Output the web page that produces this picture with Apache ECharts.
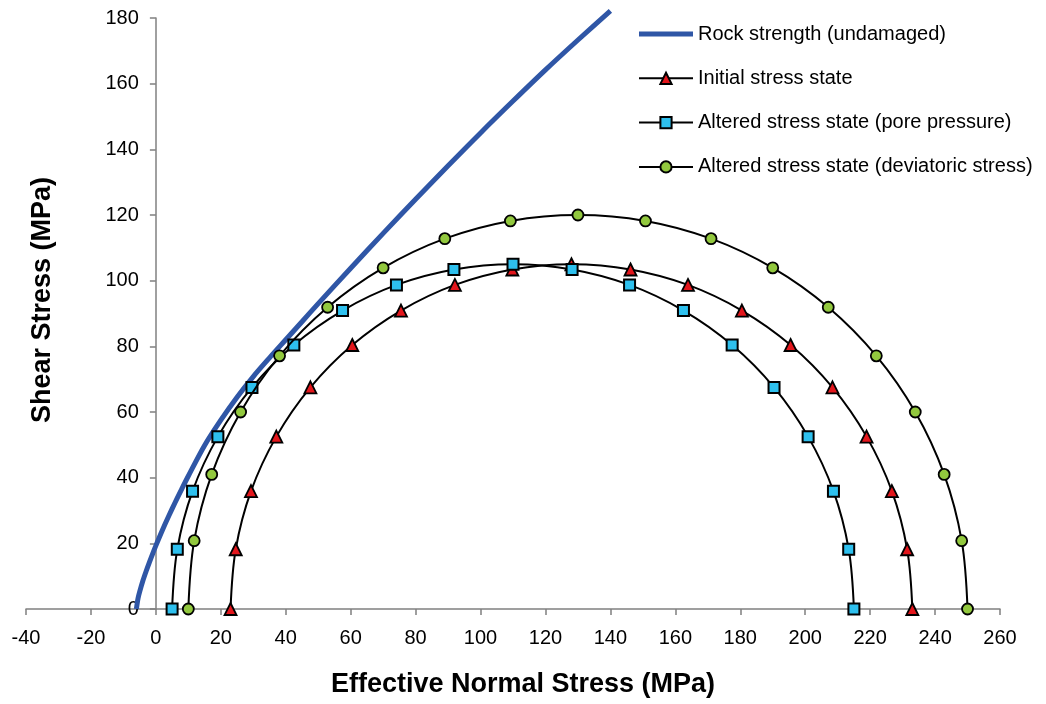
<!DOCTYPE html>
<html>
<head>
<meta charset="utf-8">
<script src="https://cdn.jsdelivr.net/npm/echarts@6/dist/echarts.min.js"></script>
<style>
  html, body { margin: 0; padding: 0; background: #fff; }
  #chart { width: 1046px; height: 704px; }
</style>
</head>
<body>
<div id="chart"></div>
<script>
// ---- data ----
const xTitle = 'Effective Normal Stress (MPa)';
const yTitle = 'Shear Stress (MPa)';
const seriesNames = [
  'Rock strength (undamaged)',
  'Initial stress state',
  'Altered stress state (pore pressure)',
  'Altered stress state (deviatoric stress)'
];

// Rock strength envelope (normal stress, shear stress)
const rockSigma = [-6, -5.5, -5, -4, -3, -2, -1, 0, 2, 4, 6, 8, 10, 15, 20, 25, 30, 35, 40, 45, 50, 60, 70, 80, 90, 100, 110, 120, 130, 140];
const rockTau   = [0, 3.2, 5.2, 8.6, 11.5, 14.2, 16.8, 19.3, 24, 28.4, 32.6, 36.6, 40.5, 49.8, 57.5, 64.5, 70.8, 76.5, 82, 87.5, 93, 103.8, 114.4, 124.8, 135, 145, 154.7, 164.2, 173.3, 182.2];

// Initial stress state (Mohr circle points)
const initSigma = [233, 231.4, 226.7, 218.9, 208.4, 195.5, 180.5, 163.9, 146.2, 128, 109.8, 92.1, 75.5, 60.5, 47.6, 37.1, 29.3, 24.6, 23];
const initTau   = [0, 18.2, 35.9, 52.5, 67.5, 80.4, 90.9, 98.7, 103.4, 105, 103.4, 98.7, 90.9, 80.4, 67.5, 52.5, 35.9, 18.2, 0];

// Altered stress state (pore pressure)
const poreSigma = [215, 213.4, 208.7, 200.9, 190.4, 177.5, 162.5, 145.9, 128.2, 110, 91.8, 74.1, 57.5, 42.5, 29.6, 19.1, 11.3, 6.6, 5];
const poreTau   = [0, 18.2, 35.9, 52.5, 67.5, 80.4, 90.9, 98.7, 103.4, 105, 103.4, 98.7, 90.9, 80.4, 67.5, 52.5, 35.9, 18.2, 0];

// Altered stress state (deviatoric stress)
const devSigma = [250, 248.2, 242.8, 233.9, 221.9, 207.1, 190, 171, 150.8, 130, 109.2, 89, 70, 52.9, 38.1, 26.1, 17.2, 11.8, 10];
const devTau   = [0, 20.8, 41.0, 60, 77.1, 91.9, 103.9, 112.8, 118.2, 120, 118.2, 112.8, 103.9, 91.9, 77.1, 60, 41.0, 20.8, 0];

const xTicks = { min: -40, max: 260, interval: 20 };
const yTicks = { min: 0, max: 180, interval: 20 };

// ---- chart ----
const pair = (xs, ys) => xs.map((x, i) => [x, ys[i]]);
const FONT = '"Liberation Sans", Arial, sans-serif';

const GRID = { left: 26, right: 46, top: 18, bottom: 95 };
const W = 1046;
// y axis sits at x = 0: shift it from the grid's left edge
const yAxisShift = (0 - xTicks.min) / (xTicks.max - xTicks.min) * (W - GRID.left - GRID.right);

const chart = echarts.init(document.getElementById('chart'), null, { renderer: 'canvas' });

const markerLine = { color: '#000', width: 2 };
const option = {
  backgroundColor: '#fff',
  animation: false,
  textStyle: { fontFamily: FONT },
  grid: Object.assign({ containLabel: false, outerBoundsMode: 'none' }, GRID),
  legend: {
    orient: 'vertical',
    left: 638,
    top: 24,
    padding: 0,
    itemWidth: 54,
    itemHeight: 14,
    itemGap: 24.3,
    textStyle: { fontFamily: FONT, fontSize: 20, color: '#000', lineHeight: 20 },
    data: [
      { name: seriesNames[0], icon: 'path://M0,0 L54,0 L54,5 L0,5 Z', itemStyle: { color: '#2f56a6' } },
      { name: seriesNames[1] },
      { name: seriesNames[2] },
      { name: seriesNames[3] }
    ]
  },
  xAxis: {
    type: 'value',
    min: xTicks.min, max: xTicks.max, interval: xTicks.interval,
    splitLine: { show: false },
    axisLine: { show: true, onZero: false, lineStyle: { color: '#808080', width: 1.5 } },
    axisTick: { show: true, inside: false, length: 6, lineStyle: { color: '#808080', width: 1.5 } },
    axisLabel: { color: '#000', fontSize: 20, fontFamily: FONT, margin: 19 }
  },
  yAxis: {
    type: 'value',
    min: yTicks.min, max: yTicks.max, interval: yTicks.interval,
    offset: -yAxisShift,
    splitLine: { show: false },
    axisLine: { show: true, onZero: false, lineStyle: { color: '#808080', width: 1.5 } },
    axisTick: { show: true, inside: false, length: 6, lineStyle: { color: '#808080', width: 1.5 } },
    axisLabel: { color: '#000', fontSize: 20, fontFamily: FONT, margin: 17 }
  },
  graphic: [
    {
      type: 'text', left: 'center', top: 671,
      style: { text: xTitle, font: 'bold 27px ' + FONT, fill: '#000' }
    },
    {
      type: 'text', x: 43, y: 300, rotation: Math.PI / 2,
      style: { text: yTitle, font: 'bold 27px ' + FONT, fill: '#000', align: 'center', verticalAlign: 'middle' }
    }
  ],
  series: [
    {
      name: seriesNames[0], type: 'line', data: pair(rockSigma, rockTau),
      smooth: 0.3, showSymbol: false, symbol: 'none', clip: false,
      lineStyle: { color: '#2f56a6', width: 5 },
      itemStyle: { color: '#2f56a6' },
      z: 1
    },
    {
      name: seriesNames[1], type: 'line', data: pair(initSigma, initTau),
      smooth: 0.35, symbol: 'triangle', symbolSize: 12,
      lineStyle: markerLine,
      itemStyle: { color: '#e3161c', borderColor: '#000', borderWidth: 1.8 },
      z: 3
    },
    {
      name: seriesNames[2], type: 'line', data: pair(poreSigma, poreTau),
      smooth: 0.35, symbol: 'rect', symbolSize: 11,
      lineStyle: markerLine,
      itemStyle: { color: '#2ec0ee', borderColor: '#000', borderWidth: 2 },
      z: 4
    },
    {
      name: seriesNames[3], type: 'line', data: pair(devSigma, devTau),
      smooth: 0.35, symbol: 'circle', symbolSize: 11,
      lineStyle: markerLine,
      itemStyle: { color: '#92c83e', borderColor: '#000', borderWidth: 1.8 },
      z: 5
    }
  ]
};
chart.setOption(option);
</script>
</body>
</html>
